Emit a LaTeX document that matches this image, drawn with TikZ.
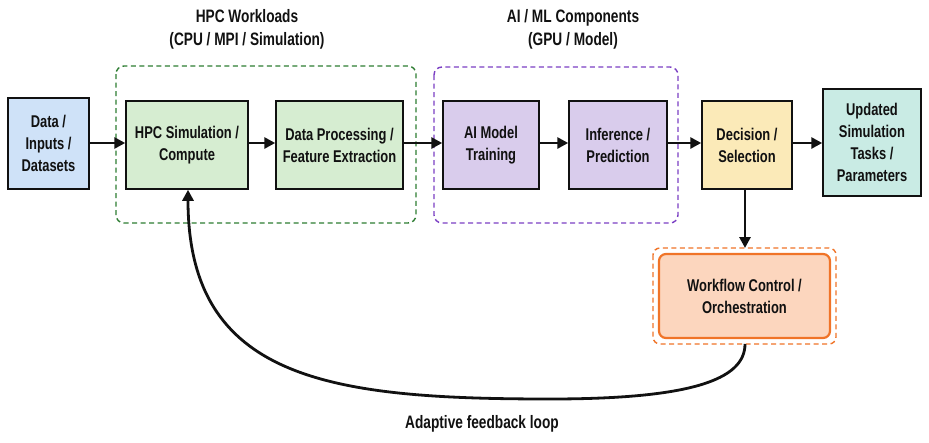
\documentclass[tikz,border=0pt]{standalone}
\usepackage{fontspec}
\setmainfont{Liberation Sans}[FakeStretch=0.76]
\usetikzlibrary{arrows.meta}
\definecolor{cblue}{HTML}{CFE2F8}
\definecolor{cgreen}{HTML}{D6EDD1}
\definecolor{cpurple}{HTML}{D9CCEC}
\definecolor{cyellow}{HTML}{FBEAB8}
\definecolor{cteal}{HTML}{C9EBE4}
\definecolor{corangef}{HTML}{FCD6BE}
\definecolor{corange}{HTML}{F07428}
\definecolor{dgreen}{HTML}{2E7D32}
\definecolor{dpurple}{HTML}{7B3FC4}
\definecolor{ink}{HTML}{111111}
\begin{document}
\begin{tikzpicture}[x=1pt,y=-1pt,
  box/.style={draw=ink,line width=1.5pt,inner sep=0pt,align=center,font=\bfseries\fontsize{17}{22}\selectfont,text=ink},
  grp/.style={dashed,line width=1.4pt,rounded corners=8pt,dash pattern=on 5pt off 3.5pt},
  arr/.style={-{Triangle[length=11pt,width=11pt]},line width=2.8pt,draw=ink},
  ttl/.style={font=\bfseries\fontsize{18}{23}\selectfont,align=center,text=ink}]
\useasboundingbox (0,0) rectangle (929,442);
\fill[white] (0,0) rectangle (929,442);
% groups
\draw[grp,draw=dgreen] (116,66) rectangle (416,223);
\draw[grp,draw=dpurple] (434,67) rectangle (678,223);
\draw[grp,draw=corange,rounded corners=7pt] (653,248) rectangle (836,344);
% titles
\node[ttl] (t1) at (247,29) {HPC Workloads\\(CPU / MPI / Simulation)};
\node[ttl] (t2) at (573,29) {AI / ML Components\\(GPU / Model)};
% boxes
\node[box,fill=cblue,minimum width=81pt,minimum height=91pt] (data) at (48.5,143.5) {Data /\\Inputs /\\Datasets};
\node[box,fill=cgreen,minimum width=122pt,minimum height=88pt] (hpc) at (187,145) {HPC Simulation /\\Compute};
\node[box,fill=cgreen,minimum width=127pt,minimum height=88pt] (dp) at (339.5,145) {Data Processing /\\Feature Extraction};
\node[box,fill=cpurple,minimum width=96pt,minimum height=88pt] (ai) at (491,145) {AI Model\\Training};
\node[box,fill=cpurple,minimum width=98pt,minimum height=88pt] (inf) at (618,145) {Inference /\\Prediction};
\node[box,fill=cyellow,minimum width=90pt,minimum height=88pt] (dec) at (747,145) {Decision /\\Selection};
\node[box,fill=cteal,minimum width=98pt,minimum height=107pt] (upd) at (872,142.5) {Updated\\Simulation\\Tasks /\\Parameters};
\node[box,fill=corangef,draw=corange,line width=2.2pt,rounded corners=7pt,minimum width=171pt,minimum height=84pt] (wf) at (744.5,296) {Workflow Control /\\Orchestration};
\coordinate (wfo) at (745,248);
\coordinate (wfb) at (745,344);
% arrows
\draw[arr] (data.east |- 0,143) -- (hpc.west |- 0,143);
\draw[arr] (hpc.east |- 0,143) -- (dp.west |- 0,143);
\draw[arr] (dp.east |- 0,143) -- (ai.west |- 0,143);
\draw[arr] (ai.east |- 0,143) -- (inf.west |- 0,143);
\draw[arr] (inf.east |- 0,143) -- (dec.west |- 0,143);
\draw[arr] (dec.east |- 0,143) -- (upd.west |- 0,143);
\draw[arr] (dec.south -| wfo) -- (wfo);
\draw[arr] (wfb) .. controls (745,380) and (690,399) .. (550,399)
  .. controls (330,399) and (188,380) .. (hpc.south -| 188,0);
\node[ttl] (lbl) at (482,424) {Adaptive feedback loop};
\end{tikzpicture}
\end{document}
